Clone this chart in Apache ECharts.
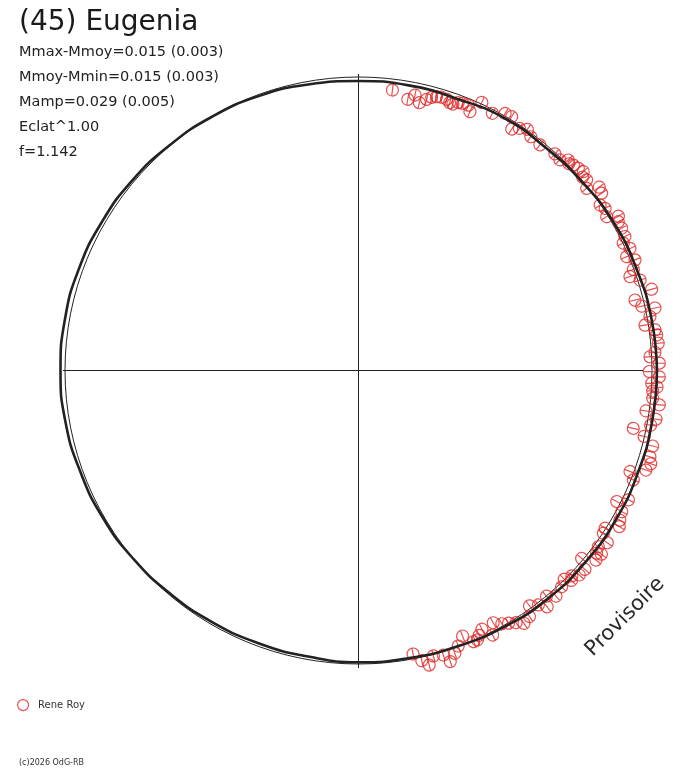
<!DOCTYPE html>
<html>
<head>
<meta charset="utf-8">
<script src="https://cdn.jsdelivr.net/npm/echarts@6/dist/echarts.min.js"></script>
<style>
html, body { margin: 0; padding: 0; background: #fff; }
#chart { width: 688px; height: 768px; }
</style>
</head>
<body>
<div id="chart"></div>
<script>
// texts
var title = '(45) Eugenia';
var infoLines = ['Mmax-Mmoy=0.015 (0.003)', 'Mmoy-Mmin=0.015 (0.003)', 'Mamp=0.029 (0.005)', 'Eclat^1.00', 'f=1.142'];
var observer = 'Rene Roy';
var stamp = 'Provisoire';
var footer = '(c)2026 OdG-RB';

// mean radius (reference circle) and outer radius of the plotting area
var R0 = 293.5;
var RMAX = 330;

// observations: phase angle (deg) and radius
var obsAngle = [83.1, 79.7, 78.4, 77.2, 75.9, 75.0, 74.1, 73.1, 72.0, 70.5, 69.6, 68.7, 67.5, 66.7, 65.3,
  60.3, 58.9, 57.6, 56.4, 55.0, 53.6, 51.2, 47.8, 46.3, 45.1, 43.7, 42.6, 41.5, 39.9, 38.6,
  37.3, 36.1, 34.4, 33.3, 31.8, 30.7, 29.8, 28.4, 26.7, 25.7, 24.2, 23.0, 21.8, 20.2, 19.1,
  17.8, 15.5, 14.3, 12.8, 11.9, 10.5, 9.0, 7.8, 6.8, 5.2, 2.7, 1.4, 359.8, 358.8, 357.5,
  356.0, 354.6, 353.5, 352.0, 350.7, 349.4, 348.1, 347.0, 345.6, 343.5, 342.3, 340.9, 339.6, 338.3, 334.4,
  333.1, 331.8, 330.2, 327.4, 329.1, 326.4, 325.3, 323.7, 322.9, 321.4, 319.9, 318.7, 317.2, 316.1, 314.6,
  313.2, 311.2, 309.8, 308.6, 307.5, 306.0, 304.8, 303.2, 302.0, 300.7, 298.1, 296.9, 295.5, 293.8, 293.0,
  291.4, 289.9, 288.8, 287.5, 286.6, 284.7, 283.5, 282.3, 280.9,
  44.5, 40.8, 3.5, 356.8, 322.5, 315.4, 299.5, 294.5, 71.2, 62.5];
var obsR = [282.5, 275.6, 281.2, 274.6, 279.6, 282.8, 284.7, 285.6, 285.2, 282.7, 285.8, 286.8, 287.3, 281.8, 295.1,
  296.0, 296.5, 286.0, 290.7, 294.4, 290.4, 289.5, 292.4, 291.4, 297.2, 297.3, 298.7, 300.1, 297.3, 292.0,
  302.6, 300.9, 292.8, 295.1, 292.0, 302.3, 299.4, 299.2, 298.2, 293.8, 297.7, 291.3, 297.8, 292.8, 287.2,
  295.7, 304.2, 285.3, 290.5, 303.0, 296.4, 290.1, 299.3, 300.3, 301.0, 291.8, 300.9, 290.8, 300.9, 293.5,
  294.9, 295.5, 302.8, 290.3, 301.5, 297.2, 280.8, 293.1, 303.7, 304.0, 306.8, 304.2, 289.7, 295.8, 299.3,
  289.6, 298.7, 301.2, 292.7, 304.0, 294.0, 302.6, 297.6, 304.5, 303.8, 291.7, 301.4, 301.0, 296.1, 293.0,
  296.7, 299.8, 293.7, 302.4, 295.5, 290.9, 299.6, 302.2, 297.3, 293.9, 286.0, 296.6, 286.6, 294.5, 294.5,
  285.2, 293.0, 298.8, 305.2, 296.9, 295.1, 302.9, 297.0, 288.7,
  295.0, 296.0, 297.0, 299.0, 300.0, 299.0, 291.0, 291.0, 283.0, 290.0];

// fitted light curve
var fitAngle = [0, 10, 20, 30, 40, 50, 60, 70, 80, 90, 100, 110, 120, 130, 140, 150, 160, 170, 180,
  190, 200, 210, 220, 230, 240, 250, 260, 270, 280, 290, 300, 310, 320, 330, 340, 350, 360];
var fitR = [298.5, 297.5, 296, 295, 292.5, 291, 291.5, 289, 289.5, 289.5, 290.5, 292, 293, 294, 295.5, 296.5, 297.5, 298, 298,
  297.5, 296, 295, 293.5, 292, 291, 290.5, 290.5, 291.8, 292, 293, 295, 296.5, 297, 297.5, 297.5, 298, 298.5];

// cross arms
var crossAngle = [180, 0, 90, 270];
var crossR = [295.5, 284.5, 296.5, 297.5];

var RED = '#e02626';
var INK = '#222';
var FONT = '"DejaVu Sans", "Liberation Sans", sans-serif';
var marker = 'path://M0,10A10,10,0,1,1,20,10A10,10,0,1,1,0,10ZM0,10L20,10';
var CENTER = [358.5, 370.5];

var chart = echarts.init(document.getElementById('chart'), null, { renderer: 'canvas' });

var graphics = [{
  type: 'text', x: 19, y: 23,
  style: { text: title, font: '28px ' + FONT, fill: '#1a1a1a', textAlign: 'left', textVerticalAlign: 'middle' }
}];
for (var i = 0; i < infoLines.length; i++) {
  graphics.push({
    type: 'text', x: 19, y: 52 + i * 25,
    style: { text: infoLines[i], font: '14.5px ' + FONT, fill: INK, textAlign: 'left', textVerticalAlign: 'middle' }
  });
}
graphics.push({
  type: 'text', x: 625, y: 617, rotation: Math.PI / 4,
  style: { text: stamp, font: '21px ' + FONT, fill: '#2a2a2a', textAlign: 'center', textVerticalAlign: 'middle' }
});
graphics.push({
  type: 'text', x: 19, y: 763,
  style: { text: footer, font: '8px ' + FONT, fill: '#333', textAlign: 'left', textVerticalAlign: 'middle' }
});

function hiddenAngle(idx, showLine) {
  return {
    polarIndex: idx, type: 'value', min: 0, max: 360, startAngle: 0, clockwise: false,
    axisLine: { show: showLine, lineStyle: { color: INK, width: 1 } },
    axisTick: { show: false }, axisLabel: { show: false }, splitLine: { show: false }
  };
}
function hiddenRadius(idx, max) {
  return {
    polarIndex: idx, type: 'value', min: 0, max: max,
    axisLine: { show: false }, axisTick: { show: false }, axisLabel: { show: false }, splitLine: { show: false }
  };
}

var option = {
  backgroundColor: '#fff',
  animation: false,
  polar: [
    { center: CENTER, radius: RMAX },
    { center: CENTER, radius: R0 }
  ],
  angleAxis: [hiddenAngle(0, false), hiddenAngle(1, true)],
  radiusAxis: [hiddenRadius(0, RMAX), hiddenRadius(1, R0)],
  legend: {
    data: [{ name: observer, icon: 'circle' }],
    left: 12, top: 694, itemWidth: 20, itemHeight: 11,
    textStyle: { fontFamily: FONT, fontSize: 10, color: '#333' },
    itemStyle: { color: 'rgba(0,0,0,0)', borderColor: RED, borderWidth: 1.2 }
  },
  graphic: graphics,
  series: [
    {
      name: observer,
      type: 'scatter',
      polarIndex: 0,
      coordinateSystem: 'polar',
      clip: false,
      symbol: marker,
      symbolSize: 12,
      // radial stroke: rotate by the phase angle (positive = counterclockwise)
      symbolRotate: function (v) { return v[1]; },
      itemStyle: { color: 'rgba(0,0,0,0)', borderColor: RED, borderWidth: 1.2 },
      data: obsAngle.map(function (a, k) { return [obsR[k], a]; })
    },
    {
      type: 'line',
      polarIndex: 0,
      coordinateSystem: 'polar',
      clip: false,
      smooth: true,
      showSymbol: false,
      lineStyle: { color: INK, width: 2.6 },
      data: fitAngle.map(function (a, k) { return [fitR[k], a]; })
    },
    {
      type: 'line',
      polarIndex: 0,
      coordinateSystem: 'polar',
      clip: false,
      showSymbol: false,
      lineStyle: { color: INK, width: 1 },
      data: [[crossR[0], crossAngle[0]], [crossR[1], crossAngle[1]]]
    },
    {
      type: 'line',
      polarIndex: 0,
      coordinateSystem: 'polar',
      clip: false,
      showSymbol: false,
      lineStyle: { color: INK, width: 1 },
      data: [[crossR[2], crossAngle[2]], [crossR[3], crossAngle[3]]]
    }
  ]
};
chart.setOption(option);
</script>
</body>
</html>
